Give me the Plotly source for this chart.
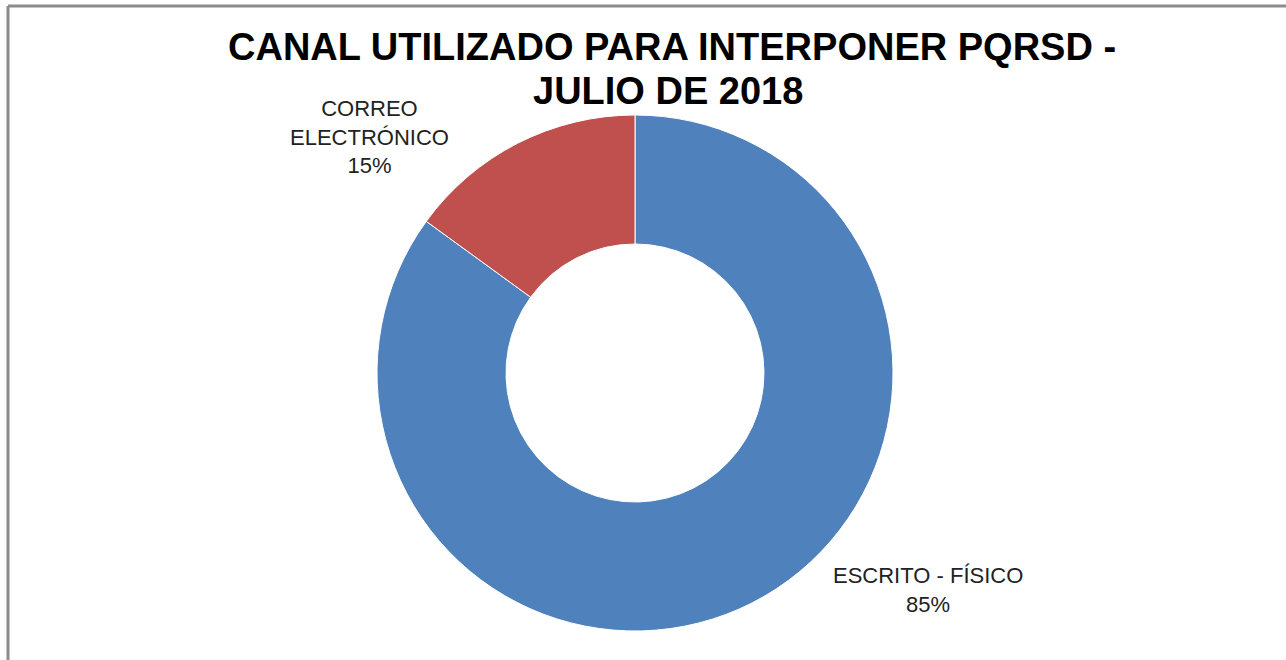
import plotly.graph_objects as go

W, H = 1286, 660

# data
canales = ["ESCRITO - FÍSICO", "CORREO ELECTRÓNICO"]
porcentajes = [85, 15]
colores = ["#4F81BD", "#C0504D"]
etiquetas = ["ESCRITO - FÍSICO", "CORREO<br>ELECTRÓNICO"]

titulo_lineas = ["CANAL UTILIZADO PARA INTERPONER PQRSD -", "JULIO DE 2018"]

FONT = "Liberation Sans, Arial, sans-serif"


def px(x):
    return x / W


def py(y):
    return 1 - y / H


fig = go.Figure()

fig.add_trace(
    go.Pie(
        labels=canales,
        values=porcentajes,
        hole=0.5,
        sort=False,
        direction="clockwise",
        rotation=0,
        marker=dict(colors=colores, line=dict(color="#ffffff", width=1)),
        textinfo="none",
        hoverinfo="label+percent",
        showlegend=False,
        domain=dict(x=[px(377), px(893)], y=[py(631), py(115)]),
    )
)

# data labels placed outside the ring
label_pos = [(928, 590), (369, 137)]
for et, val, (lx, ly) in zip(etiquetas, porcentajes, label_pos):
    fig.add_annotation(
        x=px(lx), y=py(ly), xref="paper", yref="paper",
        text=f"{et}<br>{val}%",
        showarrow=False, xanchor="center", yanchor="middle",
        font=dict(family=FONT, size=22, color="#222222"),
    )

# title, one annotation per line
for linea, (tx, ty) in zip(titulo_lineas, [(672, 47), (668, 91)]):
    fig.add_annotation(
        x=px(tx), y=py(ty), xref="paper", yref="paper",
        text=f"<b>{linea}</b>",
        showarrow=False, xanchor="center", yanchor="middle",
        font=dict(family=FONT, size=38, color="#000000"),
    )

# chart frame (top and left edges visible)
fig.add_shape(type="line", xref="paper", yref="paper",
              x0=px(8), y0=py(6), x1=1, y1=py(6),
              line=dict(color="#8c8c8c", width=3))
fig.add_shape(type="line", xref="paper", yref="paper",
              x0=px(8), y0=py(6), x1=px(8), y1=0,
              line=dict(color="#8c8c8c", width=3))

fig.update_layout(
    width=W, height=H,
    margin=dict(l=0, r=0, t=0, b=0),
    paper_bgcolor="white",
    plot_bgcolor="white",
)

fig.write_html(
    "out.html",
    config={"displayModeBar": False},
    post_script="document.body.style.margin = '0';",
)
